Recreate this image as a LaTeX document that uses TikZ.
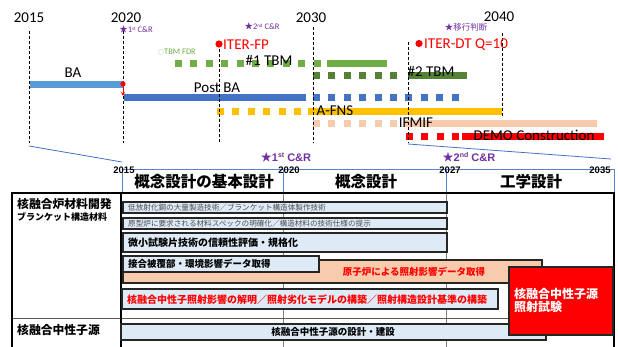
\documentclass[tikz,border=0pt]{standalone}
\usepackage{fontspec}
\usetikzlibrary{arrows.meta}
\setmainfont{Carlito}
\newfontfamily\jp{Noto Sans CJK JP}
\newfontfamily\jpb{Noto Sans CJK JP Black}
\newfontfamily\arialf{Liberation Sans}
\definecolor{baBlue}{HTML}{5B9BD5}
\definecolor{postBlue}{HTML}{4472C4}
\definecolor{tbmGreen}{HTML}{70AD47}
\definecolor{tbmDark}{HTML}{548235}
\definecolor{afnsYel}{HTML}{FFC000}
\definecolor{ifmifPeach}{HTML}{F8CBAD}
\definecolor{demoRed}{HTML}{FF0000}
\definecolor{crPurple}{HTML}{7030A0}
\definecolor{boxFill}{HTML}{DEEBF7}
\definecolor{boxLine}{HTML}{262626}
\definecolor{gridGrey}{HTML}{7F7F7F}
\definecolor{hdrBlue}{HTML}{5B84C4}
\tikzset{
  yrlbl/.style={font=\fontsize{15}{15}\selectfont, inner sep=0, anchor=base},
  barlbl/.style={font=\fontsize{15}{15}\selectfont, inner sep=0, anchor=base},
  vline/.style={line width=0.8pt, dash pattern=on 3pt off 2pt},
  solidbar/.style={line width=7pt},
  dashbar/.style={line width=7pt, dash pattern=on 7pt off 8.4pt},
  smallcr/.style={font=\fontsize{8.5}{9}\selectfont, text=crPurple, inner sep=0, anchor=base},
  bigcr/.style={font=\arialf\bfseries\fontsize{11}{11}\selectfont, text=crPurple, inner sep=0, anchor=base},
  byear/.style={font=\arialf\bfseries\fontsize{9.5}{10}\selectfont, inner sep=0, anchor=base},
  hdrtxt/.style={font=\jpb\fontsize{15.5}{16}\selectfont, inner sep=0},
  taskbox/.style={draw=boxLine, line width=1.4pt, fill=boxFill},
  tasktxt/.style={font=\jpb\fontsize{9.5}{10}\selectfont, inner sep=0},
  thintxt/.style={font=\jp\fontsize{7.6}{8}\selectfont, text=black!70, inner sep=0, anchor=west},
  lefttxt/.style={font=\jpb\fontsize{11.8}{12}\selectfont, inner sep=0, anchor=west},
}
\newcommand{\sstar}{{\jp ★}}
\begin{document}
\begin{tikzpicture}[x=1pt,y=-1pt]
\useasboundingbox (0,0) rectangle (618,347);

% ---------- top timeline bars ----------
\coordinate (baA) at (30,85); \coordinate (baB) at (123,85);
\draw[solidbar, baBlue] (baA) -- (baB);
\coordinate (pbA) at (124,97.5); \coordinate (pbB) at (306,97.5);
\coordinate (pbC) at (313,97.5); \coordinate (pbD) at (460,97.5);
\draw[solidbar, postBlue] (pbA) -- (pbB);
\draw[dashbar, postBlue] (pbC) -- (pbD);
\coordinate (t1A) at (175,63.5); \coordinate (t1B) at (321,63.5);
\coordinate (t1C) at (327,63.5); \coordinate (t1D) at (387,63.5);
\draw[dashbar, tbmGreen] (t1A) -- (t1B);
\draw[solidbar, tbmGreen] (t1C) -- (t1D);
\coordinate (t2A) at (313,75.5); \coordinate (t2B) at (398,75.5);
\coordinate (t2C) at (408,75.5); \coordinate (t2D) at (467,75.5);
\draw[dashbar, tbmDark] (t2A) -- (t2B);
\draw[solidbar, tbmDark] (t2C) -- (t2D);
\coordinate (afA) at (217,111.5); \coordinate (afB) at (303,111.5);
\coordinate (afC) at (308,111.5); \coordinate (afD) at (502,111.5);
\draw[dashbar, afnsYel] (afA) -- (afB);
\draw[solidbar, afnsYel] (afC) -- (afD);
\coordinate (ifA) at (313,123.5); \coordinate (ifB) at (398,123.5);
\coordinate (ifC) at (405,123.5); \coordinate (ifD) at (597,123.5);
\draw[dashbar, ifmifPeach] (ifA) -- (ifB);
\draw[solidbar, ifmifPeach] (ifC) -- (ifD);
\coordinate (deA) at (406,136.5); \coordinate (deB) at (460,136.5);
\coordinate (deC) at (462,136.5); \coordinate (deD) at (604,136.5);
\draw[dashbar, demoRed] (deA) -- (deB);
\draw[solidbar, demoRed] (deC) -- (deD);

% ---------- vertical dashed lines ----------
\coordinate (v15a) at (29.5,31);  \coordinate (v15b) at (29.5,143);
\coordinate (v20a) at (123,31);   \coordinate (v20b) at (123,143);
\coordinate (vfpa) at (219,44);   \coordinate (vfpb) at (219,143);
\coordinate (v30a) at (313,27);   \coordinate (v30b) at (313,143);
\coordinate (vdta) at (408,42);   \coordinate (vdtb) at (408,143);
\coordinate (v40a) at (502,33);   \coordinate (v40b) at (502,116);
\draw[vline] (v15a) -- (v15b);
\draw[vline] (v20a) -- (v20b);
\draw[vline] (vfpa) -- (vfpb);
\draw[vline] (v30a) -- (v30b);
\draw[vline] (vdta) -- (vdtb);
\draw[vline] (v40a) -- (v40b);

% ---------- year labels ----------
\node[yrlbl] (y2015) at (29,23) {2015};
\node[yrlbl] (y2020) at (126,23) {2020};
\node[yrlbl] (y2030) at (311,23) {2030};
\node[yrlbl] (y2040) at (499,22) {2040};

% ---------- C&R marks ----------
\node[smallcr] (cr1) at (136,33) {\sstar1\raisebox{0.35em}{\fontsize{5}{5}\selectfont st} C\&R};
\node[smallcr] (cr2) at (262,30) {\sstar2\raisebox{0.35em}{\fontsize{5}{5}\selectfont nd} C\&R};
\node[smallcr, font=\jp\fontsize{8.5}{9}\selectfont] (crm) at (466,30.5) {★移行判断};
\node[smallcr, text=tbmGreen] (fdr) at (177,55) {{\jp\fontsize{6}{6}\selectfont ○}TBM FDR};

% ---------- events ----------
\fill[demoRed] (vfpa) circle (3.6);
\node[barlbl, anchor=base west, text=demoRed] (fp) at (223,49.5) {ITER-FP};
\coordinate (dtdot) at (419,43.5);
\fill[demoRed] (dtdot) circle (3.6);
\node[barlbl, anchor=base west, text=demoRed] (dt) at (424,48.5) {ITER-DT Q=10};
\coordinate (rdot) at (123,84);
\coordinate (rarr) at (123,96);
\fill[demoRed] (rdot) circle (2.6);
\draw[demoRed, line width=1pt, -{Stealth[length=4pt,width=4pt]}] (rdot) -- (rarr);

% ---------- bar labels ----------
\node[barlbl] (lba) at (73,78) {BA};
\node[barlbl] (lpb) at (217,93) {Post BA};
\node[barlbl] (lt1) at (269,66) {\#1 TBM};
\node[barlbl] (lt2) at (431,76.5) {\#2 TBM};
\node[barlbl] (laf) at (335,116) {A-FNS};
\node[barlbl] (lif) at (416,128) {IFMIF};
\node[barlbl] (lde) at (534,141) {DEMO Construction};

% ---------- zoom lines ----------
\coordinate (zlA) at (29,146); \coordinate (zlB) at (122,162);
\coordinate (zrA) at (408,144); \coordinate (zrB) at (611,159);
\draw[postBlue, line width=0.8pt] (zlA) -- (zlB);
\draw[postBlue, line width=0.8pt] (zrA) -- (zrB);

% ---------- table grid ----------
\coordinate (g283a) at (283,193); \coordinate (g283b) at (283,347);
\coordinate (g446a) at (446,193); \coordinate (g446b) at (446,347);
\draw[gridGrey, line width=1pt] (g283a) -- (g283b);
\draw[gridGrey, line width=1pt] (g446a) -- (g446b);
\coordinate (rowA) at (12,318); \coordinate (rowB) at (614,318);
\draw[gridGrey!70!black, line width=1pt] (rowA) -- (rowB);
\coordinate (hTL) at (122,169); \coordinate (hBR) at (614,193);
\draw[hdrBlue, line width=0.8pt] (hTL) rectangle (hBR);
\coordinate (h283) at (283,169); \coordinate (h446) at (446,169);
\draw[hdrBlue, line width=0.8pt] (h283) -- (g283a);
\draw[hdrBlue, line width=0.8pt] (h446) -- (g446a);
\coordinate (tTL) at (12,193); \coordinate (tTR) at (614,193);
\coordinate (tBL) at (12,347); \coordinate (tBR) at (614,347);
\coordinate (tML) at (121,193); \coordinate (tMB) at (121,347);
\draw[black, line width=1.2pt] (tBL) -- (tTL) -- (tTR) -- (tBR);
\draw[black, line width=1.2pt] (tML) -- (tMB);

\node[byear] (b2015) at (124,174) {2015};
\node[byear] (b2020) at (289,174) {2020};
\node[byear] (b2027) at (450,174) {2027};
\node[byear] (b2035) at (600,174) {2035};
\node[bigcr] (bcr1) at (286,162) {\sstar1\raisebox{0.4em}{\fontsize{7}{7}\selectfont st} C\&R};
\node[bigcr] (bcr2) at (469,162) {\sstar2\raisebox{0.4em}{\fontsize{7}{7}\selectfont nd} C\&R};

\node[hdrtxt] (hd1) at (204,182) {概念設計の基本設計};
\node[hdrtxt] (hd2) at (366,182) {概念設計};
\node[hdrtxt] (hd3) at (531,182) {工学設計};

\node[lefttxt] (lc1) at (17,204) {核融合炉材料開発};
\node[lefttxt, font=\jpb\fontsize{9}{9}\selectfont] (lc2) at (17,217.5) {ブランケット構造材料};
\node[lefttxt] (lc3) at (17,330) {核融合中性子源};

% ---------- task boxes ----------
\draw[taskbox, line width=1.1pt] (123,202) rectangle (447,213);
\node[thintxt] (tk1) at (128,207.8) {低放射化鋼の大量製造技術／ブランケット構造体製作技術};
\draw[taskbox, line width=1.1pt] (123,218) rectangle (447,229);
\node[thintxt] (tk2) at (128,223.8) {原型炉に要求される材料スペックの明確化／構造材料の技術仕様の提示};
\draw[taskbox] (123,233) rectangle (447,252);
\node[tasktxt, anchor=west, font=\jpb\fontsize{10}{10}\selectfont] (tk3) at (128,243) {微小試験片技術の信頼性評価・規格化};
\draw[draw=boxLine, line width=1.2pt, fill=ifmifPeach] (123,260) rectangle (542,283);
\node[tasktxt, text=demoRed] (tk5) at (414,272) {原子炉による照射影響データ取得};
\draw[taskbox] (123,256) rectangle (319,272);
\node[tasktxt, anchor=west] (tk4) at (128,264.3) {接合被覆部・環境影響データ取得};
\draw[taskbox] (122,289) rectangle (498,309);
\node[tasktxt, anchor=west, text=demoRed, font=\jpb\fontsize{10}{10}\selectfont] (tk6) at (127,299.3) {核融合中性子照射影響の解明／照射劣化モデルの構築／照射構造設計基準の構築};
\draw[taskbox] (121,324) rectangle (546,340);
\node[tasktxt] (tk7) at (333,332.3) {核融合中性子源の設計・建設};
\draw[draw=boxLine, line width=1.4pt, fill=demoRed] (509,267) rectangle (613,335);
\node[tasktxt, anchor=west, text=white, font=\jpb\fontsize{12}{12}\selectfont, align=left] (tk8) at (514,300.5) {核融合中性子源\\[1.5pt]照射試験};
\end{tikzpicture}
\end{document}
